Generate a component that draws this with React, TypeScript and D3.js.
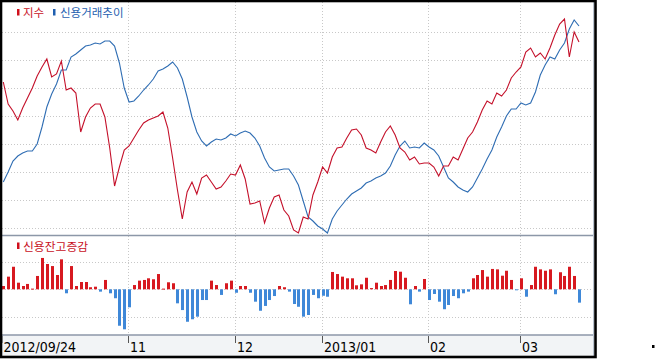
import React from "react";
import * as d3 from "d3";

// 지수 (index) – one value per trading day, 2012/09/24 ~ 2013/03/20
const indexValues = [
  1958, 1936, 1929, 1920, 1932, 1942, 1952, 1964, 1973, 1981,
  1963, 1966, 1979, 1950, 1952, 1947, 1908, 1923, 1932, 1936,
  1936, 1923, 1892, 1854, 1873, 1890, 1894, 1902, 1910, 1917,
  1920, 1922, 1924, 1928, 1912, 1882, 1850, 1821, 1848, 1858,
  1846, 1862, 1865, 1858, 1851, 1853, 1859, 1866, 1865, 1875,
  1861, 1836, 1837, 1839, 1817, 1832, 1843, 1845, 1830, 1824,
  1810, 1807, 1823, 1821, 1845, 1858, 1873, 1867, 1883, 1892,
  1893, 1902, 1910, 1911, 1905, 1892, 1890, 1887, 1898, 1908,
  1914, 1905, 1892, 1888, 1880, 1883, 1876, 1877, 1877, 1873,
  1864, 1874, 1874, 1883, 1880, 1891, 1902, 1908, 1918, 1930,
  1939, 1936, 1947, 1944, 1950, 1962, 1968, 1973, 1988, 1992,
  1983, 1987, 1981, 1992, 2005, 2016, 2021, 1983, 2008, 1998,
];

// 신용거래추이 (credit trading balance)
const creditValues = [
  40530, 40630, 40740, 40790, 40820, 40840, 40840, 40910, 41080, 41280,
  41410, 41510, 41650, 41650, 41780, 41810, 41850, 41890, 41900, 41920,
  41910, 41940, 41940, 41890, 41720, 41470, 41330, 41340, 41390, 41450,
  41500, 41560, 41640, 41660, 41690, 41730, 41670, 41560, 41380, 41180,
  41030, 40940, 40890, 40930, 40960, 40950, 40970, 41010, 40990, 41020,
  41040, 41020, 40970, 40890, 40770, 40680, 40640, 40650, 40660, 40660,
  40590, 40500, 40340, 40180, 40140, 40090, 40060, 40020, 40160, 40240,
  40300, 40360, 40410, 40440, 40470, 40520, 40540, 40570, 40590, 40620,
  40690, 40800, 40890, 40940, 40870, 40880, 40870, 40920, 40880, 40850,
  40790, 40680, 40570, 40530, 40480, 40450, 40430, 40480, 40570, 40660,
  40760, 40850, 40980, 41080, 41190, 41260, 41260, 41320, 41300, 41320,
  41430, 41600, 41700, 41780, 41760, 41850, 41920, 42060, 42150, 42090,
];

// 신용잔고증감 (daily change of credit balance)
const changeValues = [
  24, 92, 164, 48, 24, 39, 5, 97, 228, 184,
  169, 104, 218, -29, 169, 24, 53, 53, 15, 19,
  -17, 68, -29, -65, -265, -291, -131, 31, 63, 68,
  80, 73, 111, 5, 51, 44, -102, -151, -236, -218,
  -199, -78, -78, 63, 31, -41, 44, 63, -25, 24,
  24, -25, -90, -156, -121, -78, -49, 24, 15, -17,
  -107, -127, -199, -187, -41, -65, -47, -54, 126, 111,
  92, 80, 80, 29, 36, 84, 9, 48, 24, 31,
  68, 133, 128, 84, -109, 24, -17, 75, -78, -34,
  -90, -145, -114, -49, -65, -29, -17, 80, 104, 140,
  92, 148, 145, 99, 135, 68, -4, 80, -54, 31,
  164, 145, 135, 145, -36, 124, 97, 164, 97, -97,
];

// x-axis ticks (trading-day index of each label)
const tickIndex = [0, 26, 48, 66, 88, 107];
const tickLabels = ["2012/09/24", "11", "12", "2013/01", "02", "03"];

// invisible value grids
const indexGrid = [2008, 1980, 1952, 1924, 1896, 1868, 1840, 1812];
const changeGrid = [200, 0, -200];

const W = 656;
const H = 359;

export default function App() {
  const n = indexValues.length;
  const x = d3.scaleLinear().domain([0, n - 1]).range([3.3, 579]);
  const yIndex = d3.scaleLinear().domain([1800, 2040]).range([240, 0]);
  const yCredit = d3.scaleLinear().domain([40000, 42350]).range([235, 0]);
  const yChange = d3.scaleLinear().domain([-200, 200]).range([316.8, 261.8]);

  const lineIndex = d3
    .line<number>()
    .x((_, i) => x(i))
    .y((d) => yIndex(d));
  const lineCredit = d3
    .line<number>()
    .x((_, i) => x(i))
    .y((d) => yCredit(d));

  const gridColor = "#c8c8c8";
  const sepColor = "#8c97a8";
  const krFont = "'Noto Sans CJK KR', 'Noto Sans', sans-serif";
  const numFont = "'Liberation Sans Narrow', 'Arial Narrow', 'DejaVu Sans Condensed', sans-serif";

  return (
    <svg
      width={W}
      height={H}
      style={{ position: "absolute", left: 0, top: 0, background: "#fff" }}
    >
      <rect x={0} y={0} width={W} height={H} fill="#fff" />
      {/* axis band background */}
      <rect x={1} y={335} width={593} height={22} fill="#f2f4f6" />
      {/* horizontal grid – main panel */}
      {indexGrid.map((v) => (
        <line
          key={"hg" + v}
          x1={2}
          x2={593}
          y1={Math.round(yIndex(v)) + 0.5}
          y2={Math.round(yIndex(v)) + 0.5}
          stroke={gridColor}
          strokeDasharray="1,2"
        />
      ))}
      {/* horizontal grid – lower panel */}
      {changeGrid.map((v) => (
        <line
          key={"cg" + v}
          x1={2}
          x2={593}
          y1={Math.round(yChange(v)) + 0.5}
          y2={Math.round(yChange(v)) + 0.5}
          stroke={gridColor}
          strokeDasharray="1,2"
        />
      ))}
      {/* vertical grid */}
      {tickIndex.slice(1).map((t) => (
        <line
          key={"vg" + t}
          x1={Math.round(x(t)) - 0.5}
          x2={Math.round(x(t)) - 0.5}
          y1={2}
          y2={335}
          stroke={gridColor}
          strokeDasharray="1,2"
        />
      ))}

      {/* bars */}
      {changeValues.map((v, i) => {
        const y0 = yChange(0);
        const y1 = yChange(v);
        return (
          <rect
            key={"b" + i}
            x={Math.round(x(i)) - 1}
            y={Math.min(y0, y1)}
            width={3}
            height={Math.max(1, Math.abs(y1 - y0))}
            fill={v >= 0 ? "#d71920" : "#3f88d8"}
          />
        );
      })}

      {/* lines */}
      <path
        d={lineCredit(creditValues) || ""}
        fill="none"
        stroke="#2f6db3"
        strokeWidth={1.1}
      />
      <path
        d={lineIndex(indexValues) || ""}
        fill="none"
        stroke="#c4102a"
        strokeWidth={1.1}
      />

      {/* panel separators and plot right edge */}
      <line x1={1} x2={594} y1={235.5} y2={235.5} stroke={sepColor} strokeWidth={1.5} />
      <line x1={1} x2={594} y1={335} y2={335} stroke={sepColor} strokeWidth={1.5} />
      <line x1={593.5} x2={593.5} y1={2} y2={356} stroke="#b8c2ce" strokeWidth={1} />

      {/* legends */}
      <rect x={17} y={9} width={2.5} height={6.5} fill="#d0101c" />
      <text x={23} y={16.5} fontFamily={krFont} fontSize={11.5} fill="#c8101c">
        지수
      </text>
      <rect x={53} y={9} width={2.5} height={6.5} fill="#1f5fb0" />
      <text x={60} y={16.5} fontFamily={krFont} fontSize={11.5} fill="#1f5fb0">
        신용거래추이
      </text>
      <rect x={17} y={242.5} width={2.5} height={6.5} fill="#d0101c" />
      <text x={23} y={250.5} fontFamily={krFont} fontSize={11.8} fill="#c8101c">
        신용잔고증감
      </text>

      {/* x axis ticks and labels */}
      {tickIndex.map((t, k) => {
        const tx = k === 0 ? 2 : Math.round(x(t)) - 0.5;
        return (
          <g key={"t" + t}>
            <line x1={tx} x2={tx} y1={336} y2={343} stroke="#555" strokeWidth={1} />
            <text x={tx + 1.5} y={352} fontFamily={numFont} fontSize={14} fill="#000">
              {tickLabels[k]}
            </text>
          </g>
        );
      })}

      {/* outer frame */}
      <rect x={1} y={1} width={594.5} height={356} fill="none" stroke="#000" strokeWidth={2.6} />
      <rect x={652} y={345} width={2.5} height={3} fill="#000" />
    </svg>
  );
}
